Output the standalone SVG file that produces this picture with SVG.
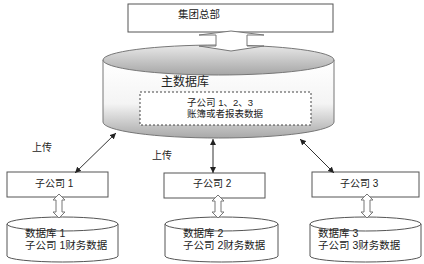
<svg xmlns="http://www.w3.org/2000/svg" width="424" height="264" viewBox="0 0 424 264">
  <defs>
    <linearGradient id="gTop" x1="0" y1="0" x2="0" y2="1">
      <stop offset="0" stop-color="#e8e8e8"/>
      <stop offset="1" stop-color="#a6a6a6"/>
    </linearGradient>
    <linearGradient id="gBody" gradientUnits="userSpaceOnUse" x1="0" y1="62" x2="0" y2="138">
      <stop offset="0" stop-color="#ffffff"/>
      <stop offset="0.55" stop-color="#f4f4f4"/>
      <stop offset="1" stop-color="#a8a8a8"/>
    </linearGradient>
    <marker id="ah" viewBox="0 0 8 8" refX="8" refY="4" markerWidth="6" markerHeight="6" markerUnits="userSpaceOnUse" orient="auto-start-reverse">
      <path d="M0,0 L8,4 L0,8 Z" fill="#222"/>
    </marker>
    <style>
      .t { font-family: "Liberation Sans", "Noto Sans CJK SC", sans-serif; fill: #222; }
      .box { fill: #fff; stroke: #555; stroke-width: 1; }
      .db { fill: #fff; stroke: #555; stroke-width: 1; }
      .harrow { fill: #fff; stroke: #777; stroke-width: 1; }
      .conn { stroke: #333; stroke-width: 1; fill: none; marker-start: url(#ah); marker-end: url(#ah); }
    </style>
  </defs>

  <g id="main-db">
    <path d="M103,60 L103,122 A115.5,16 0 0 0 334,122 L334,60 Z" fill="url(#gBody)" stroke="#777" stroke-width="1"/>
    <ellipse cx="218.5" cy="60" rx="115.5" ry="15" fill="url(#gTop)" stroke="#777" stroke-width="1"/>
    <text class="t" x="161" y="86" font-size="12">主数据库</text>
    <rect x="140" y="92" width="171" height="33" fill="#fff" stroke="#444" stroke-width="1" stroke-dasharray="2,2"/>
    <text class="t" x="187" y="105.5" font-size="9.5">子公司 1、2、3</text>
    <text class="t" x="187" y="116.5" font-size="9.5">账簿或者报表数据</text>
  </g>

  <g id="hq">
    <rect class="box" x="128" y="4" width="205" height="28"/>
    <text class="t" x="178" y="18" font-size="10.5">集团总部</text>
  </g>

  <g id="hq-arrow">
    <polygon class="harrow" points="231,31 264,35 247,35 247,46 264,46 231,51 199,46 216,46 216,35 199,35"/>
  </g>

  <g id="sub1">
    <rect class="box" x="7" y="172" width="101" height="25"/>
    <text class="t" x="35" y="186.5" font-size="10">子公司 1</text>
  </g>
  <g id="sub2">
    <rect class="box" x="164" y="173" width="101" height="25"/>
    <text class="t" x="193" y="187" font-size="10">子公司 2</text>
  </g>
  <g id="sub3">
    <rect class="box" x="312" y="172" width="107" height="25"/>
    <text class="t" x="340" y="186.5" font-size="10">子公司 3</text>
  </g>

  <g id="db1">
    <path class="db" d="M7,224 L7,256 A55.5,6 0 0 0 118,256 L118,224 Z"/>
    <ellipse class="db" cx="62.5" cy="224" rx="55.5" ry="7"/>
    <text class="t" x="25" y="237" font-size="10.5">数据库 1</text>
    <text class="t" x="25" y="249" font-size="10.5">子公司 1财务数据</text>
  </g>
  <g id="db2">
    <path class="db" d="M165,224 L165,256 A56.5,6 0 0 0 278,256 L278,224 Z"/>
    <ellipse class="db" cx="221.5" cy="224" rx="56.5" ry="7"/>
    <text class="t" x="183" y="237" font-size="10.5">数据库 2</text>
    <text class="t" x="183" y="249" font-size="10.5">子公司 2财务数据</text>
  </g>
  <g id="db3">
    <path class="db" d="M310,224 L310,256 A55.5,6 0 0 0 421,256 L421,224 Z"/>
    <ellipse class="db" cx="365.5" cy="224" rx="55.5" ry="7"/>
    <text class="t" x="318" y="237" font-size="10.5">数据库 3</text>
    <text class="t" x="318" y="249" font-size="10.5">子公司 3财务数据</text>
  </g>

  <g id="sub-arrows">
    <polygon class="harrow" points="59,194 65,200 62,200 62,212 65,212 59,218 53,212 56,212 56,200 53,200"/>
    <polygon class="harrow" points="218,195 224,201 221,201 221,212 224,212 218,218 212,212 215,212 215,201 212,201"/>
    <polygon class="harrow" points="367,194 373,200 370,200 370,212 373,212 367,218 361,212 364,212 364,200 361,200"/>
  </g>

  <g id="connectors">
    <line class="conn" x1="116" y1="133" x2="75" y2="173"/>
    <line class="conn" x1="213" y1="139" x2="213" y2="173"/>
    <line class="conn" x1="300" y1="139" x2="334" y2="173"/>
  </g>

  <g id="labels">
    <text class="t" x="32" y="150.5" font-size="10">上传</text>
    <text class="t" x="152" y="158.5" font-size="10">上传</text>
  </g>
</svg>
